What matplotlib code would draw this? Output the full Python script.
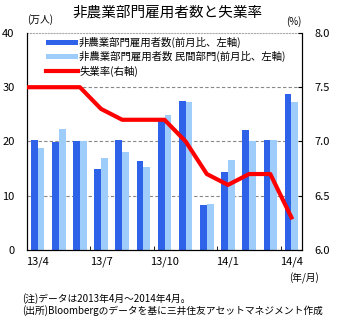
import matplotlib.pyplot as plt
import numpy as np

plt.rcParams['font.family'] = ['Noto Sans CJK JP', 'DejaVu Sans']

months = ['13/4', '13/5', '13/6', '13/7', '13/8', '13/9', '13/10',
          '13/11', '13/12', '14/1', '14/2', '14/3', '14/4']
tick_labels = ['13/4', '13/7', '13/10', '14/1', '14/4']
nonfarm = [20.3, 19.9, 20.1, 14.9, 20.3, 16.4, 23.9, 27.5, 8.3, 14.4, 22.2, 20.3, 28.8]
private = [18.8, 22.3, 20.1, 17.0, 18.1, 15.3, 24.8, 27.3, 8.5, 16.6, 20.0, 20.3, 27.3]
# 13/3 から 14/4 まで
unemp = [7.5, 7.5, 7.5, 7.5, 7.3, 7.2, 7.2, 7.2, 7.0, 6.7, 6.6, 6.7, 6.7, 6.3]

fig = plt.figure(figsize=(3.61, 3.23), dpi=100)
ax = fig.add_axes([0.0748, 0.226, 0.7618, 0.672])
x = np.arange(len(months))
w = 0.32
ax.bar(x - w / 2, nonfarm, width=w, color='#2e62e8', label='非農業部門雇用者数(前月比、左軸)', zorder=2)
ax.bar(x + w / 2, private, width=w, color='#9fcdfb', label='非農業部門雇用者数 民間部門(前月比、左軸)', zorder=2)
ax.set_ylim(0, 40)
ax.set_xlim(-0.5, 12.5)
ax.set_yticks([0, 10, 20, 30, 40])
ax.tick_params(axis='y', length=0, labelsize=8, pad=9)
ax.set_xticks([0, 3, 6, 9, 12])
ax.set_xticklabels(tick_labels, fontsize=8)
ax.set_xticks(np.arange(-0.5, 12.5, 3), minor=True)
ax.tick_params(axis='x', which='major', length=0, pad=5)
ax.tick_params(axis='x', which='minor', direction='in', length=3)
for yv in [10, 20, 30]:
    ax.axhline(yv, color='#888888', lw=0.8, ls=(0, (3, 2)), zorder=1)
ax.spines['top'].set_color('#aaaaaa')
ax.spines['top'].set_linestyle(':')

ax2 = ax.twinx()
ax2.plot(np.arange(-1, 13), unemp, color='#ff0000', lw=3, label='失業率(右軸)', zorder=3)
ax2.set_ylim(6.0, 8.0)
ax2.set_yticks([6.0, 6.5, 7.0, 7.5, 8.0])
ax2.set_yticklabels(['6.0', '6.5', '7.0', '7.5', '8.0'])
ax2.tick_params(axis='y', direction='in', length=3, labelsize=8, pad=9)
ax2.spines['top'].set_visible(False)
ax.set_xlim(-0.5, 12.5)

h1, l1 = ax.get_legend_handles_labels()
h2, l2 = ax2.get_legend_handles_labels()
leg = ax2.legend(h1 + h2, l1 + l2, loc='upper left', bbox_to_anchor=(0.055, 1.0),
                 fontsize=7.5, frameon=True, framealpha=1, edgecolor='none',
                 handlelength=3.0, handleheight=0.45, handletextpad=0.15,
                 labelspacing=0.3, borderaxespad=0.2, borderpad=0.2)

fig.text(0.464, 0.962, '非農業部門雇用者数と失業率', ha='center', va='center', fontsize=10.5)
fig.text(0.11, 0.938, '(万人)', ha='center', va='center', fontsize=7)
fig.text(0.793, 0.932, '(%)', ha='left', va='center', fontsize=7)
fig.text(0.80, 0.139, '(年/月)', ha='left', va='center', fontsize=7)
fig.text(0.06, 0.077, '(注)データは2013年4月～2014年4月。', ha='left', va='center', fontsize=7)
fig.text(0.06, 0.04, '(出所)Bloombergのデータを基に三井住友アセットマネジメント作成', ha='left', va='center', fontsize=7)

fig.savefig('out.png', dpi=100)
